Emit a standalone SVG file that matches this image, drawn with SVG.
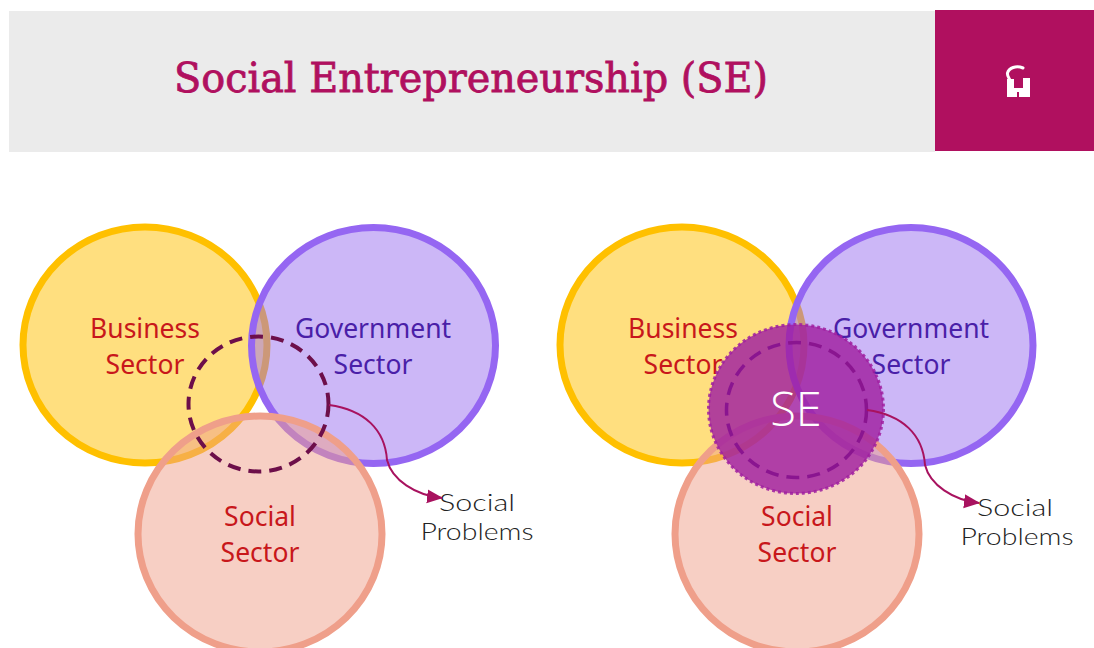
<svg xmlns="http://www.w3.org/2000/svg" width="1094" height="648" viewBox="0 0 1094 648">
<style>
text{text-anchor:middle}
.c{stroke-width:7}
.biz{fill:#ffc000;fill-opacity:.5;stroke:#ffc000}
.gov{fill:#9a6ff0;fill-opacity:.5;stroke:#9566f2}
.soc{fill:#ef9f8a;fill-opacity:.5;stroke:#ef9f8a}
.l{font:26.5px "Noto Sans","Open Sans",sans-serif}
.red{fill:#c8171b}
.blue{fill:#4a1fa8}
.p{font:300 24px Lato,"Noto Sans",sans-serif;fill:#222}
.link{fill:none;stroke:#a8125f;stroke-width:2}
</style>
<defs>
<marker id="ah" markerWidth="18" markerHeight="16" refX="15" refY="7" orient="auto" markerUnits="userSpaceOnUse"><path d="M0 0L16 7L0 14Z" fill="#a8125f"/></marker>
</defs>
<g id="header">
<rect x="9" y="11" width="926" height="141" fill="#ebebeb"/>
<rect x="935" y="10" width="159" height="141" fill="#b0105f"/>
<text x="471" y="92" textLength="594" lengthAdjust="spacingAndGlyphs" style="font:41px 'DejaVu Serif','Liberation Serif',serif;fill:#b0105f;stroke:#b0105f;stroke-width:.8">Social Entrepreneurship (SE)</text>
<path d="M1023 68C1016 65 1009 68 1007.500 73C1007 76 1009 78 1010 80" fill="none" stroke="#fff" stroke-width="3" stroke-linecap="round"/>
<path d="M1007 79H1014V88H1023V78H1030V97H1019V92H1017V97H1007Z" fill="#fff"/>
</g>
<g id="business-left"><ellipse class="c biz" cx="145" cy="345" rx="122" ry="118"/><text class="l red" x="145" y="338">Business</text><text class="l red" x="145" y="374">Sector</text></g>
<g id="government-left"><ellipse class="c gov" cx="373.500" cy="345.500" rx="122" ry="118"/><text class="l blue" x="373" y="338">Government</text><text class="l blue" x="373" y="374">Sector</text></g>
<g id="social-left"><ellipse class="c soc" cx="260" cy="534" rx="122" ry="118"/><text class="l red" x="260" y="526">Social</text><text class="l red" x="260" y="562">Sector</text></g>
<g id="focus-left"><ellipse cx="258.500" cy="404" rx="70" ry="67.500" fill="none" stroke="#6d0f4a" stroke-width="4" stroke-dasharray="13 8"/></g>
<g id="problems-left"><text class="p" x="477" y="511" textLength="76" lengthAdjust="spacingAndGlyphs">Social</text><text class="p" x="477" y="540" textLength="113" lengthAdjust="spacingAndGlyphs">Problems</text></g>
<g id="business-right"><ellipse class="c biz" cx="682" cy="345" rx="122" ry="118"/><text class="l red" x="683" y="338">Business</text><text class="l red" x="683" y="374">Sector</text></g>
<g id="government-right"><ellipse class="c gov" cx="911" cy="345.500" rx="122" ry="118"/><text class="l blue" x="911" y="338">Government</text><text class="l blue" x="911" y="374">Sector</text></g>
<g id="social-right"><ellipse class="c soc" cx="797" cy="534" rx="122" ry="118"/><text class="l red" x="797" y="526">Social</text><text class="l red" x="797" y="562">Sector</text></g>
<g id="se">
<ellipse cx="796" cy="409" rx="87.500" ry="84.500" fill="#a01ea0" fill-opacity=".82" stroke="#a01ea0" stroke-opacity=".85" stroke-width="3" stroke-dasharray="3 3"/>
<ellipse cx="796.500" cy="410" rx="70" ry="67.500" fill="none" stroke="#8a1590" stroke-width="3.500" stroke-dasharray="13 8"/>
<text x="796" y="426" style="font:300 47px 'Open Sans','Noto Sans',sans-serif;fill:#fff">SE</text>
</g>
<g id="problems-right"><text class="p" x="1015" y="516" textLength="76" lengthAdjust="spacingAndGlyphs">Social</text><text class="p" x="1017" y="545" textLength="113" lengthAdjust="spacingAndGlyphs">Problems</text></g>
<g id="connectors">
<path class="link" d="M329 405C365 410 385 430 387 460C392 480 415 495 442 498" marker-end="url(#ah)"/>
<path class="link" d="M867 410C903 415 923 435 925 465C930 485 953 500 979 503" marker-end="url(#ah)"/>
</g>
</svg>
